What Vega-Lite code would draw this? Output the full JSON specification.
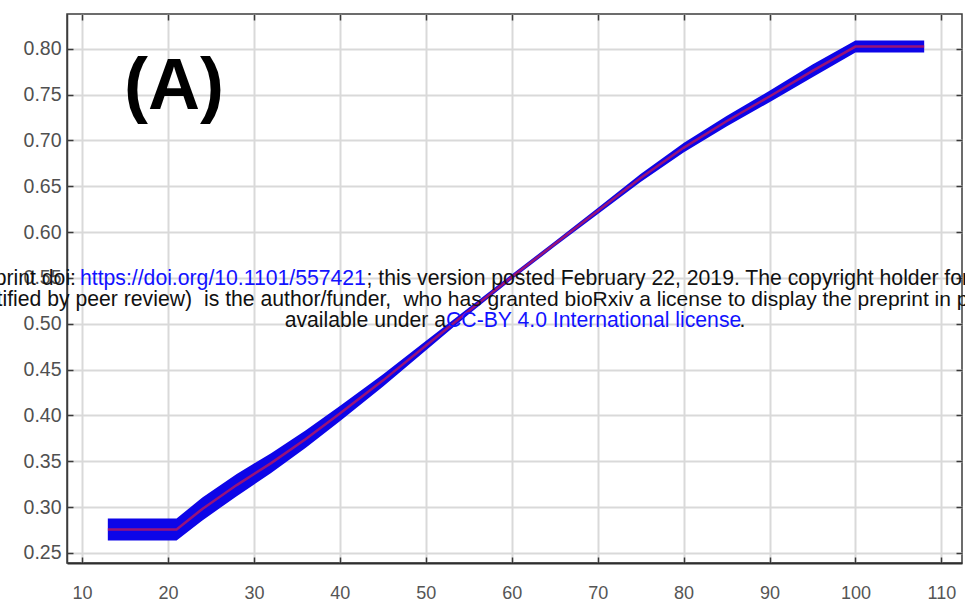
{
  "$schema": "https://vega.github.io/schema/vega-lite/v6.json",
  "width": 895,
  "height": 549,
  "autosize": {"type": "none"},
  "padding": {"left": 67, "top": 14, "right": 3, "bottom": 42},
  "background": "white",
  "config": {
    "font": "Liberation Sans",
    "view": {"stroke": "#3c3c3c", "strokeWidth": 1.5}
  },
  "datasets": {
    "curve": [
      {"x": 13, "y": 0.2755, "lower": 0.2635, "upper": 0.2875},
      {"x": 21, "y": 0.2755, "lower": 0.2635, "upper": 0.2875},
      {"x": 24, "y": 0.298, "lower": 0.2855, "upper": 0.3105},
      {"x": 28, "y": 0.324, "lower": 0.3118, "upper": 0.3362},
      {"x": 32, "y": 0.348, "lower": 0.3372, "upper": 0.3588},
      {"x": 36, "y": 0.374, "lower": 0.3644, "upper": 0.3836},
      {"x": 40, "y": 0.402, "lower": 0.3937, "upper": 0.4103},
      {"x": 45, "y": 0.438, "lower": 0.4313, "upper": 0.4447},
      {"x": 50, "y": 0.476, "lower": 0.4709, "upper": 0.4811},
      {"x": 55, "y": 0.514, "lower": 0.5104, "upper": 0.5176},
      {"x": 60, "y": 0.551, "lower": 0.5482, "upper": 0.5538},
      {"x": 65, "y": 0.587, "lower": 0.5842, "upper": 0.5898},
      {"x": 70, "y": 0.623, "lower": 0.6196, "upper": 0.6264},
      {"x": 75, "y": 0.659, "lower": 0.6547, "upper": 0.6633},
      {"x": 80, "y": 0.692, "lower": 0.6868, "upper": 0.6972},
      {"x": 85, "y": 0.721, "lower": 0.7153, "upper": 0.7267},
      {"x": 90, "y": 0.748, "lower": 0.7417, "upper": 0.7543},
      {"x": 95, "y": 0.776, "lower": 0.769, "upper": 0.783},
      {"x": 100, "y": 0.8025, "lower": 0.796, "upper": 0.809},
      {"x": 108, "y": 0.8025, "lower": 0.796, "upper": 0.809}
    ],
    "panel": [
      {"x": 20.7, "y": 0.7343, "text": "(A)"}
    ],
    "notes": [
      {"part": "end", "kind": "plain", "x": 9.297, "y": 0.5418, "text": "bioRxiv preprint doi:"},
      {"part": "start", "kind": "link", "x": 9.763, "y": 0.5418, "text": "https://doi.org/10.1101/557421"},
      {"part": "start", "kind": "plain", "x": 43.1, "y": 0.5418, "text": "; this version posted February 22, 2019. The copyright holder for this preprint (which was not"},
      {"part": "end", "kind": "plain", "x": 22.8, "y": 0.5194, "text": "certified by peer review)"},
      {"part": "start", "kind": "plain", "x": 24.19, "y": 0.5194, "text": "is the author/funder,"},
      {"part": "tail", "kind": "plain", "x": 47.4, "y": 0.5194, "text": "who has granted bioRxiv a license to display the preprint in perpetuity. It is made"},
      {"part": "end", "kind": "plain", "x": 52.36, "y": 0.4965, "text": "available under a"},
      {"part": "start", "kind": "link", "x": 52.36, "y": 0.4965, "text": "CC-BY 4.0 International license"},
      {"part": "start", "kind": "plain", "x": 86.5, "y": 0.4965, "text": "."}
    ]
  },
  "layer": [
    {
      "data": {"name": "curve"},
      "mark": {"type": "area", "color": "#0d05e8", "interpolate": "linear"},
      "encoding": {
        "x": {
          "field": "x", "type": "quantitative",
          "scale": {"domain": [8.25, 112.4], "nice": false, "zero": false},
          "axis": {
            "orient": "bottom", "title": null,
            "values": [10, 20, 30, 40, 50, 60, 70, 80, 90, 100, 110],
            "grid": true, "gridColor": "#d9d9d9", "gridWidth": 2,
            "domain": true, "domainColor": "#2e2e2e", "domainWidth": 2,
            "ticks": true, "tickSize": -6, "tickColor": "#3a3a3a", "tickWidth": 1.5,
            "labelFontSize": 18, "labelColor": "#555555", "labelPadding": 27
          }
        },
        "y": {
          "field": "lower", "type": "quantitative",
          "scale": {"domain": [0.239, 0.838], "nice": false, "zero": false},
          "axis": {
            "orient": "left", "title": null, "format": ".2f",
            "values": [0.25, 0.3, 0.35, 0.4, 0.45, 0.5, 0.55, 0.6, 0.65, 0.7, 0.75, 0.8],
            "grid": true, "gridColor": "#d9d9d9", "gridWidth": 2,
            "domain": true, "domainColor": "#3c3c3c", "domainWidth": 1.5,
            "ticks": true, "tickSize": -6, "tickColor": "#3a3a3a", "tickWidth": 1.5,
            "labelFontSize": 19.5, "labelColor": "#505050", "labelPadding": 12
          }
        },
        "y2": {"field": "upper"}
      }
    },
    {
      "data": {"name": "curve"},
      "mark": {"type": "line", "color": "#d41a4a", "strokeWidth": 2.5, "opacity": 0.7, "interpolate": "linear"},
      "encoding": {
        "x": {"field": "x", "type": "quantitative", "scale": {"domain": [8.25, 112.4], "nice": false, "zero": false}, "axis": null},
        "y": {"field": "y", "type": "quantitative", "scale": {"domain": [0.239, 0.838], "nice": false, "zero": false}, "axis": null}
      }
    },
    {
      "data": {"name": "curve"},
      "mark": {"type": "line", "opacity": 0},
      "encoding": {
        "x": {
          "field": "x", "type": "quantitative",
          "scale": {"domain": [8.25, 112.4], "nice": false, "zero": false},
          "axis": {
            "orient": "top", "title": null, "labels": false, "grid": false, "domain": false,
            "values": [10, 20, 30, 40, 50, 60, 70, 80, 90, 100, 110],
            "ticks": true, "tickSize": -6, "tickColor": "#3a3a3a", "tickWidth": 1.5
          }
        },
        "y": {
          "field": "y", "type": "quantitative",
          "scale": {"domain": [0.239, 0.838], "nice": false, "zero": false},
          "axis": {
            "orient": "right", "title": null, "labels": false, "grid": false, "domain": false,
            "values": [0.25, 0.3, 0.35, 0.4, 0.45, 0.5, 0.55, 0.6, 0.65, 0.7, 0.75, 0.8],
            "ticks": true, "tickSize": -6, "tickColor": "#3a3a3a", "tickWidth": 1.5
          }
        }
      }
    },
    {
      "data": {"name": "panel"},
      "mark": {"type": "text", "font": "Liberation Sans", "fontSize": 72, "fontWeight": "bold", "align": "center", "baseline": "alphabetic", "color": "#000000"},
      "encoding": {
        "x": {"field": "x", "type": "quantitative", "scale": {"domain": [8.25, 112.4], "nice": false, "zero": false}, "axis": null},
        "y": {"field": "y", "type": "quantitative", "scale": {"domain": [0.239, 0.838], "nice": false, "zero": false}, "axis": null},
        "text": {"field": "text"}
      }
    },
    {
      "data": {"name": "notes"},
      "transform": [{"filter": "datum.part === 'end'"}],
      "mark": {"type": "text", "font": "Liberation Sans", "fontSize": 21.2, "align": "right", "baseline": "alphabetic"},
      "encoding": {
        "x": {"field": "x", "type": "quantitative", "scale": {"domain": [8.25, 112.4], "nice": false, "zero": false}, "axis": null},
        "y": {"field": "y", "type": "quantitative", "scale": {"domain": [0.239, 0.838], "nice": false, "zero": false}, "axis": null},
        "text": {"field": "text"},
        "color": {"field": "kind", "type": "nominal", "scale": {"domain": ["plain", "link"], "range": ["#111111", "#1212ff"]}, "legend": null}
      }
    },
    {
      "data": {"name": "notes"},
      "transform": [{"filter": "datum.part === 'start'"}],
      "mark": {"type": "text", "font": "Liberation Sans", "fontSize": 21.2, "align": "left", "baseline": "alphabetic"},
      "encoding": {
        "x": {"field": "x", "type": "quantitative", "scale": {"domain": [8.25, 112.4], "nice": false, "zero": false}, "axis": null},
        "y": {"field": "y", "type": "quantitative", "scale": {"domain": [0.239, 0.838], "nice": false, "zero": false}, "axis": null},
        "text": {"field": "text"},
        "color": {"field": "kind", "type": "nominal", "scale": {"domain": ["plain", "link"], "range": ["#111111", "#1212ff"]}, "legend": null}
      }
    },
    {
      "data": {"name": "notes"},
      "transform": [{"filter": "datum.part === 'tail'"}],
      "mark": {"type": "text", "font": "Liberation Sans", "fontSize": 21, "align": "left", "baseline": "alphabetic", "color": "#111111"},
      "encoding": {
        "x": {"field": "x", "type": "quantitative", "scale": {"domain": [8.25, 112.4], "nice": false, "zero": false}, "axis": null},
        "y": {"field": "y", "type": "quantitative", "scale": {"domain": [0.239, 0.838], "nice": false, "zero": false}, "axis": null},
        "text": {"field": "text"}
      }
    }
  ],
  "resolve": {"axis": {"x": "independent", "y": "independent"}}
}
